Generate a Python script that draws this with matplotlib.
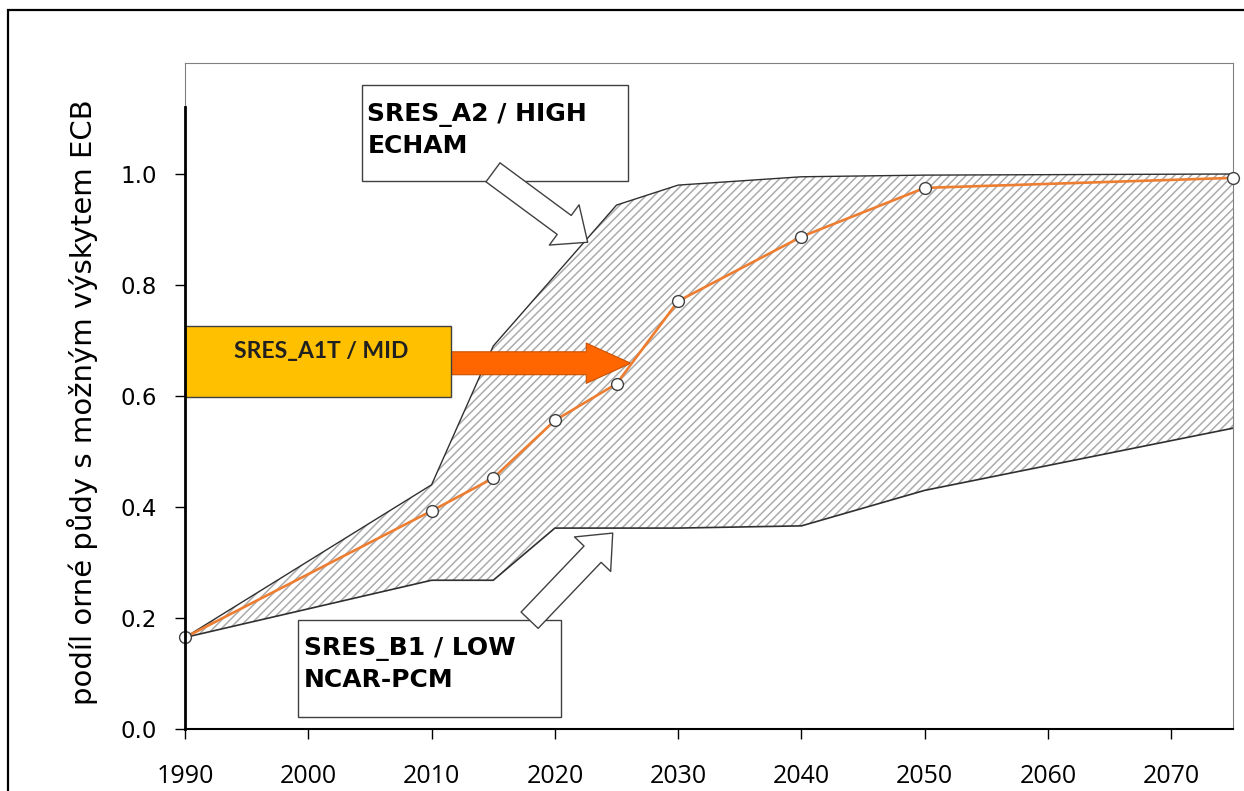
import numpy as np
import matplotlib
matplotlib.use("Agg")
import matplotlib.pyplot as plt
import matplotlib.patches as mpatches

# ============================================================
# Podíl orné půdy s možným výskytem ECB (scénáře SRES)
# ============================================================

# --- data ---
high_years = [1990, 2010, 2015, 2025, 2030, 2040, 2050, 2075]
high_vals = [0.165, 0.44, 0.69, 0.944, 0.98, 0.995, 0.998, 1.0]

low_years = [1990, 2010, 2015, 2020, 2030, 2040, 2050, 2075]
low_vals = [0.165, 0.268, 0.268, 0.362, 0.362, 0.366, 0.43, 0.542]

mid_years = [1990, 2010, 2015, 2020, 2025, 2030, 2040, 2050, 2075]
mid_vals = [0.165, 0.393, 0.452, 0.556, 0.622, 0.771, 0.887, 0.975, 0.993]

x_ticks = [1990, 2000, 2010, 2020, 2030, 2040, 2050, 2060, 2070]
y_ticks = [0.0, 0.2, 0.4, 0.6, 0.8, 1.0]

label_high = "SRES_A2 / HIGH\nECHAM"
label_mid = "SRES_A1T / MID"
label_low = "SRES_B1 / LOW\nNCAR-PCM"
y_label = "podíl orné půdy s možným výskytem ECB"

# --- figure ---
plt.rcParams["hatch.color"] = "#ababab"
plt.rcParams["hatch.linewidth"] = 1.1

W, H = 1244, 791
fig = plt.figure(figsize=(W / 100, H / 100), dpi=100)
ax = fig.add_axes([185 / W, 1 - 729 / H, (1233 - 185) / W, (729 - 63) / H])

ax.set_xlim(1990, 2075)
ax.set_ylim(0, 1.2)

# rozpětí scénářů (šrafované)
poly_x = np.r_[high_years, low_years[::-1]]
poly_y = np.r_[high_vals, low_vals[::-1]]
ax.fill(poly_x, poly_y, facecolor="white", edgecolor="#ababab",
        hatch="////", linewidth=0, zorder=1)
ax.plot(high_years, high_vals, color="#303030", linewidth=1.0, zorder=2)
ax.plot(low_years, low_vals, color="#303030", linewidth=1.2, zorder=2)

# šipky
arrow_kw = dict(shrinkA=0, shrinkB=0, mutation_scale=1, clip_on=False)

a_high = mpatches.FancyArrowPatch(
    (2014.98, 1.003), (2022.66, 0.877),
    arrowstyle=mpatches.ArrowStyle.Simple(head_length=21, head_width=36, tail_width=17),
    facecolor="white", edgecolor="#404040", linewidth=1.0, zorder=6, **arrow_kw)
ax.add_patch(a_high)

a_low = mpatches.FancyArrowPatch(
    (2017.95, 0.196), (2024.69, 0.353),
    arrowstyle=mpatches.ArrowStyle.Simple(head_length=21, head_width=36, tail_width=17),
    facecolor="white", edgecolor="#404040", linewidth=1.0, zorder=6, **arrow_kw)
ax.add_patch(a_low)

a_mid = mpatches.FancyArrowPatch(
    (2011.6, 0.659), (2026.15, 0.659),
    arrowstyle=mpatches.ArrowStyle.Simple(head_length=32, head_width=29, tail_width=16.5),
    facecolor="#ff6600", edgecolor="#c85000", linewidth=0.8, zorder=3, **arrow_kw)
ax.add_patch(a_mid)

# hlavní křivka (MID)
ax.plot(mid_years, mid_vals, color="#ed7d31", linewidth=1.9, marker="o",
        markersize=8.5, markerfacecolor="white", markeredgecolor="#404040",
        markeredgewidth=1.0, zorder=4, clip_on=False)

# boxy s popisky
box_high = mpatches.Rectangle((2004.38, 0.987), 21.52, 0.173, facecolor="white",
                              edgecolor="#404040", linewidth=1.0, zorder=5, clip_on=False)
ax.add_patch(box_high)
ax.text(2004.8, 1.078, label_high, ha="left", va="center", fontsize=18,
        fontweight="bold", family="DejaVu Sans", linespacing=1.35, zorder=7)

box_mid = mpatches.Rectangle((1990, 0.598), 21.6, 0.128, facecolor="#ffc000",
                             edgecolor="#404040", linewidth=1.0, zorder=5, clip_on=False)
ax.add_patch(box_mid)
ax.text(2001.05, 0.681, label_mid, ha="center", va="center", fontsize=16.5,
        fontweight="bold", family="Lato", color="#202020", zorder=7)

box_low = mpatches.Rectangle((1999.18, 0.0216), 21.28, 0.1744, facecolor="white",
                             edgecolor="#404040", linewidth=1.0, zorder=5, clip_on=False)
ax.add_patch(box_low)
ax.text(1999.67, 0.116, label_low, ha="left", va="center", fontsize=18,
        fontweight="bold", family="DejaVu Sans", linespacing=1.35, zorder=7)

# osy
for s in ["top", "right", "left"]:
    ax.spines[s].set_color("#808080")
    ax.spines[s].set_linewidth(0.8)
ax.spines["bottom"].set_color("black")
ax.spines["bottom"].set_linewidth(1.5)
ax.plot([1990, 1990], [0, 1.12], color="black", linewidth=2.0, zorder=8, clip_on=False)

ax.tick_params(axis="x", direction="out", length=7, width=1.0, pad=18, labelsize=18)
ax.tick_params(axis="y", direction="out", length=7, width=1.0, pad=13, labelsize=16.5)
ax.set_xticks(x_ticks)
ax.set_xticklabels([str(v) for v in x_ticks])
ax.set_yticks(y_ticks)
ax.set_yticklabels([f"{v:.1f}" for v in y_ticks])
for lab in ax.get_xticklabels():
    lab.set_fontfamily("Open Sans")
    lab.set_fontsize(18)
for lab in ax.get_yticklabels():
    lab.set_fontfamily("DejaVu Sans")
    lab.set_fontsize(16.5)

fig.text(83 / W, 1 - 402 / H, y_label, rotation=90, ha="center", va="center",
         fontsize=21, family="DejaVu Sans")

# rámeček obrázku
frame = mpatches.Rectangle((8 / W, -0.05), 1.2, 1 - 10 / H + 0.05, transform=fig.transFigure,
                           facecolor="none", edgecolor="black", linewidth=1.6)
fig.patches.append(frame)

fig.savefig("out.png", dpi=100)
